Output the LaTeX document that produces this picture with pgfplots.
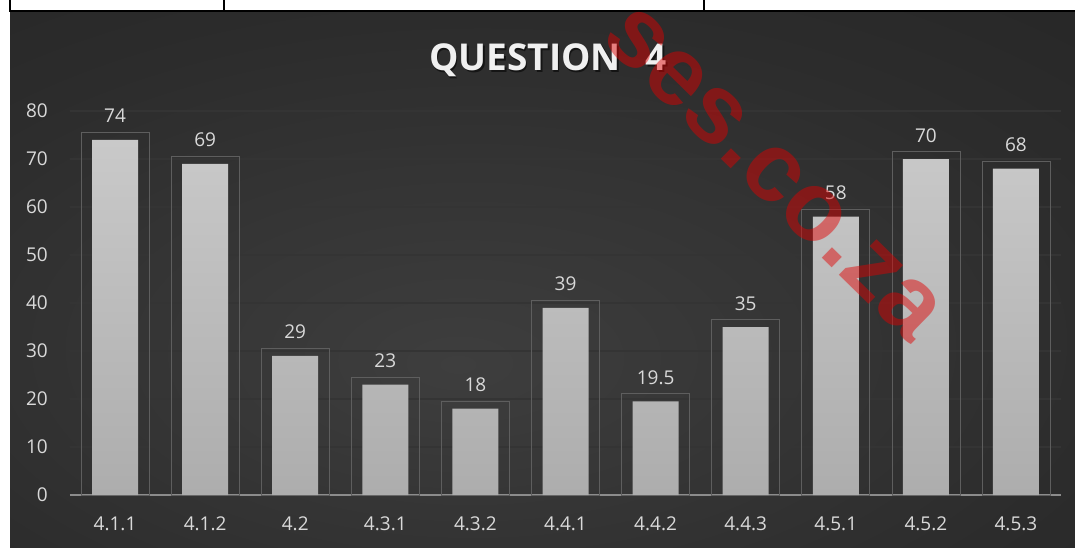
\documentclass[border=0pt]{standalone}
\usepackage{pgfplots}
\pgfplotsset{compat=1.18}
\usepackage{fontspec}
\setmainfont{Open Sans}
\newfontfamily\wmfont{Liberation Sans}
\definecolor{bginner}{HTML}{3E3E3E}
\definecolor{bgmid}{HTML}{2C2C2C}
\definecolor{bgouter}{HTML}{1B1B1B}
\definecolor{lbl}{HTML}{D9D9D9}
\definecolor{gridc}{HTML}{888888}
\definecolor{gridin}{HTML}{343434}
\definecolor{boxc}{HTML}{5E5E5E}
\definecolor{bartop}{HTML}{C9C9C9}
\definecolor{barbot}{HTML}{ADADAD}
\definecolor{axc}{HTML}{8C8C8C}
\definecolor{wm}{RGB}{225,0,0}
\pgfdeclareradialshading{bgshade}{\pgfpoint{-4bp}{-8bp}}{color(0bp)=(bginner); color(30bp)=(bgmid); color(70bp)=(bgouter); color(100bp)=(bgouter)}
\begin{document}
\begin{tikzpicture}[x=1pt,y=1pt]
\useasboundingbox (0,0) rectangle (1075,547);
\fill[white] (0,0) rectangle (1075,547);
\shade[shading=bgshade] (10,0) rectangle (1075,535);
\draw[black, line width=2pt] (9,536) -- (1075,536);
\foreach \xx in {10,224,704} \draw[black,line width=2pt] (\xx,535) -- (\xx,547);
\begin{axis}[
  at={(70pt,52pt)}, anchor=south west,
  scale only axis, width=991pt, height=384pt,
  xmin=-0.5, xmax=10.5, ymin=0, ymax=80,
  clip=false,
  /pgf/number format/assume math mode=true,
  axis x line*=bottom, axis y line*=left,
  x axis line style={draw=axc, line width=2.5pt, -},
  y axis line style={draw=none},
  major tick length=0pt, tick style={draw=none},
  ytick={0,10,...,80},
  xtick={0,...,10},
  xticklabels={4.1.1,4.1.2,4.2,4.3.1,4.3.2,4.4.1,4.4.2,4.4.3,4.5.1,4.5.2,4.5.3},
  ticklabel style={font=\fontsize{19}{22}\selectfont, text=lbl, inner sep=0pt},
  yticklabel style={anchor=east, xshift=-22pt},
  xticklabel style={anchor=north, yshift=-22pt},
  ymajorgrids,
  major grid style={draw=gridc, line width=0.6pt, double=gridin, double distance=1.1pt},
]
\addplot[ybar, bar width=68pt, bar shift=0pt, draw=boxc, line width=0.7pt, fill=none]
  coordinates {(0,75.6) (1,70.6) (2,30.6) (3,24.6) (4,19.6) (5,40.6) (6,21.1) (7,36.6) (8,59.6) (9,71.6) (10,69.6)};
\addplot[ybar, bar width=46pt, bar shift=0pt, draw=none, top color=bartop, bottom color=barbot,
  nodes near coords,
  every node near coord/.append style={font=\fontsize{19}{22}\selectfont, text=lbl, anchor=base, yshift=17pt}]
  coordinates {(0,74) (1,69) (2,29) (3,23) (4,18) (5,39) (6,19.5) (7,35) (8,58) (9,70) (10,68)};
\end{axis}
\node[font=\fontsize{37}{40}\selectfont\bfseries, text=black, text opacity=0.55, anchor=base] at (549.5,474.9) {QUESTION\hspace{25pt}4};
\node[font=\fontsize{37}{40}\selectfont\bfseries, text=white!94!black, anchor=base] at (548,476.4) {QUESTION\hspace{25pt}4};
\begin{scope}
\clip (0,0) rectangle (1075,547);
\node[font=\wmfont\bfseries\fontsize{98}{104}\selectfont, text=wm, text opacity=0.47, rotate=-44.4, anchor=base, inner sep=0pt] at (755.2,354.8) {ses.co.za};
\end{scope}
\end{tikzpicture}
\end{document}
